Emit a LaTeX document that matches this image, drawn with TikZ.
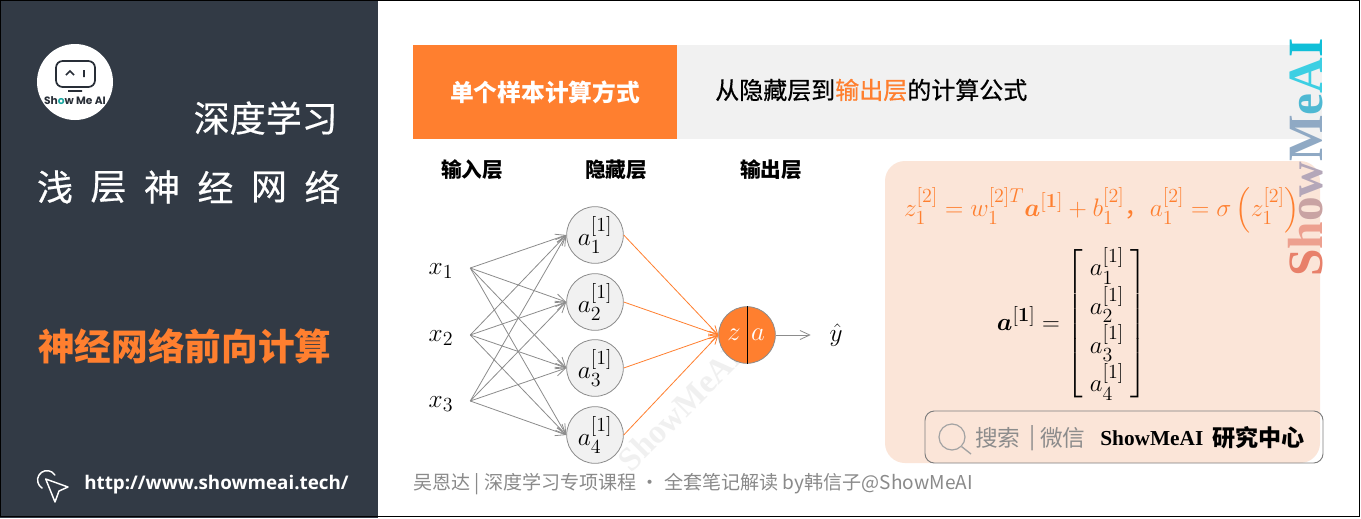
\documentclass[tikz,border=0pt]{standalone}
\usepackage{fix-cm}
\usepackage{amsmath,amssymb}
\usepackage[no-math]{fontspec}
\usepackage{xcolor}
\usepackage{tikz}
\usetikzlibrary{calc,arrows.meta,positioning}
\setmainfont{Noto Sans CJK SC}
\newfontfamily\medfont[FakeBold=0.5]{Noto Sans CJK SC}
\newfontfamily\wmfont{Liberation Serif}
\newfontfamily\urlfont{Open Sans}
\newfontfamily\logofont{Poppins}
\DeclareMathSizes{19}{19}{15}{11}
\DeclareMathSizes{18.5}{18.5}{15}{11}
\definecolor{slatex}{HTML}{323A45}
\definecolor{orangex}{HTML}{FF7F2F}
\definecolor{softbg}{HTML}{F1F1F1}
\definecolor{peachx}{HTML}{FBE5D8}
\definecolor{edgex}{HTML}{8C8C8C}
\definecolor{footx}{HTML}{8A8A8A}
\definecolor{markx}{HTML}{F0F0F0}
\definecolor{tealx}{HTML}{1AA6A0}
\tikzset{
  ar/.style={-{Straight Barb[length=2.6mm,width=2.4mm]},edgex,line width=0.6pt},
  aro/.style={-{Straight Barb[length=2.2mm,width=2.2mm]},orangex,line width=0.6pt},
  hid/.style={circle,draw=edgex,fill=softbg,line width=0.6pt,minimum size=42.5pt,inner sep=0pt,font=\fontsize{19}{22}\selectfont},
  inp/.style={inner sep=0pt,minimum width=43.5pt,font=\fontsize{19}{22}\selectfont},
  head/.style={font=\bfseries\fontsize{15.5}{18}\selectfont,inner sep=0pt},
  side/.style={font=\medfont\fontsize{27}{30}\selectfont,text=white,inner sep=0pt},
  sch/.style={font=\fontsize{17}{20}\selectfont,text=edgex,inner sep=0pt},
  lett/.style={font=\wmfont\bfseries\fontsize{37}{39}\selectfont,inner sep=0pt,rotate=90,anchor=base west}
}
\begin{document}
\begin{tikzpicture}[x=0.75pt,y=-0.75pt]
\useasboundingbox (0,0) rectangle (1361,518);
\fill[white] (0,0) rectangle (1361,518);
\fill[slatex] (0,0) rectangle (378,518);
\draw[black,line width=1.2pt] (0.5,0.5) rectangle (1359.5,516.5);
% side panel
\node[circle,fill=white,minimum size=57pt,inner sep=0pt] (logo) at (75,82) {};
\draw[slatex!80!black,line width=1.3pt,rounded corners=5pt] (56,61) rectangle (95,87);
\draw[slatex!80!black,line width=1.2pt] (66,75)--(70,71)--(74,75) (84,70)--(84,77) (68,91)--(82,91);
\node[font=\logofont\bfseries\fontsize{8}{9}\selectfont,inner sep=0pt,text=slatex!80!black] (logotxt) at (75,101) {Sh\textcolor{tealx}{o}w Me AI};
\node[side,anchor=east] (deep) at (338,118) {深度学习};
\foreach \c [count=\i from 0] in {浅,层,神,经,网,络}{
  \node[side] (ch\i) at ({55+\i*53.5},187) {\c};
}
\node[font=\bfseries\fontsize{27.5}{30}\selectfont,text=orangex,inner sep=0pt,anchor=west] (topic) at (38,346) {神经网络前向计算};
\draw[white,line width=1.1pt,line join=round] (45.7,479)--(68,487)--(59,491)--(55,502)--cycle;
\draw[white,line width=1.1pt,line cap=round] (42,488) arc[start angle=122,end angle=328,radius=9.4];
\node[font=\urlfont\bfseries\fontsize{14.1}{16}\selectfont,text=white,inner sep=0pt,anchor=west] (url) at (84,485) {http://www.showmeai.tech/};
% title bar
\fill[softbg] (677,45) rectangle (1322,139);
\node[fill=orangex,minimum width=198pt,minimum height=70.5pt,inner sep=0pt,font=\bfseries\fontsize{17.8}{20}\selectfont,text=white] (title) at (545,92) {单个样本计算方式};
\node[font=\medfont\fontsize{18}{20}\selectfont,inner sep=0pt,anchor=west] (sub) at (715,90) {从隐藏层到\textcolor{orangex}{输出层}的计算公式};
% formula card
\fill[peachx,rounded corners=15pt] (885,161) rectangle (1320,463);
% faint mark under the net
\node[font=\wmfont\bfseries\fontsize{25}{27}\selectfont,text=markx,rotate=45,inner sep=0pt] (mark) at (680,408) {ShowMeAI};
% layer titles
\node[head] (hin) at (472,170) {输入层};
\node[head] (hhid) at (616,170) {隐藏层};
\node[head] (hout) at (771,170) {输出层};
% network
\foreach \i/\y in {1/268,2/335,3/401}{
  \node[inp] (x\i) at (441,\y) {\raisebox{-5pt}[0pt][0pt]{$x_{\i}$}};
}
\foreach \i/\y in {1/235,2/302,3/368,4/435}{
  \node[hid] (a\i) at (595,\y) {$a_{\i}^{[1]}$};
}
\node[circle,draw=edgex,fill=orangex,line width=0.6pt,minimum size=42.5pt,inner sep=0pt] (out) at (747,335) {};
\draw[black,line width=0.6pt] (out.north)--(out.south);
\node[text=white,font=\fontsize{20}{22}\selectfont,inner sep=0pt] (zl) at (734,335) {$z$};
\node[text=white,font=\fontsize{20}{22}\selectfont,inner sep=0pt] (al) at (758,335) {$a$};
\node[inp,minimum width=37.5pt] (yh) at (836,335) {$\hat{y}$};
\foreach \i in {1,2,3}{
  \foreach \j in {1,2,3,4}{
    \draw[ar] (x\i.east)--(a\j.west);
  }
}
\foreach \j in {1,2,3,4}{
  \draw[aro] (a\j.east)--(out.west);
}
\draw[ar] (out.east)--(yh.west);
% formulas
\node[text=orangex,font=\fontsize{19}{22}\selectfont,inner sep=0pt] (eqz) at (1102,210) {$z_1^{[2]}=w_1^{[2]T}\boldsymbol{a}^{[\mathbf{1}]}+b_1^{[2]}\text{，}a_1^{[2]}=\sigma\left(z_1^{[2]}\right)$};
\node[font=\fontsize{18.5}{22}\selectfont,inner sep=0pt] (eqa) at (1072,324) {\setlength\arraycolsep{5pt}$\boldsymbol{a}^{[\mathbf{1}]}=\left[\begin{array}{c}a_1^{[1]}\\[1pt] a_2^{[1]}\\[1pt] a_3^{[1]}\\[1pt] a_4^{[1]}\end{array}\right]$};
% side mark
\node[lett] (side) at (1322,277) {\textcolor[HTML]{E8806A}{S}\textcolor[HTML]{EDA08F}{h}\textcolor[HTML]{C9A3A3}{o}\textcolor[HTML]{B4A7B9}{w}\textcolor[HTML]{8FA9C4}{M}\textcolor[HTML]{4FB9D3}{e}\textcolor[HTML]{3DCFE3}{A}\textcolor[HTML]{10BFD8}{I}};
% search box
\draw[edgex!90!black,line width=0.7pt,rounded corners=7pt] (925,411) rectangle (1323,463);
\node[circle,draw=edgex!80,line width=0.9pt,minimum size=19.5pt,inner sep=0pt] (glass) at (952,437) {};
\coordinate (gend) at (971,454);
\draw[edgex!80,line width=1pt] (glass.-45)--(gend);
\node[sch,anchor=west] (s1) at (975,438) {搜索};
\node[sch,anchor=west] (s2) at (1029,438) {|};
\node[sch,anchor=west] (s3) at (1040,438) {微信};
\node[font=\wmfont\bfseries\fontsize{16}{18}\selectfont,inner sep=0pt,anchor=west] (s4) at (1100,438) {ShowMeAI};
\node[font=\bfseries\fontsize{17.3}{20}\selectfont,inner sep=0pt,anchor=west] (s5) at (1212,438) {研究中心};
% footer
\node[font=\fontsize{14.3}{16}\selectfont,text=footx,inner sep=0pt,anchor=west] (foot) at (413,484) {吴恩达 | 深度学习专项课程 · 全套笔记解读 by韩信子@ShowMeAI};
\end{tikzpicture}
\end{document}
